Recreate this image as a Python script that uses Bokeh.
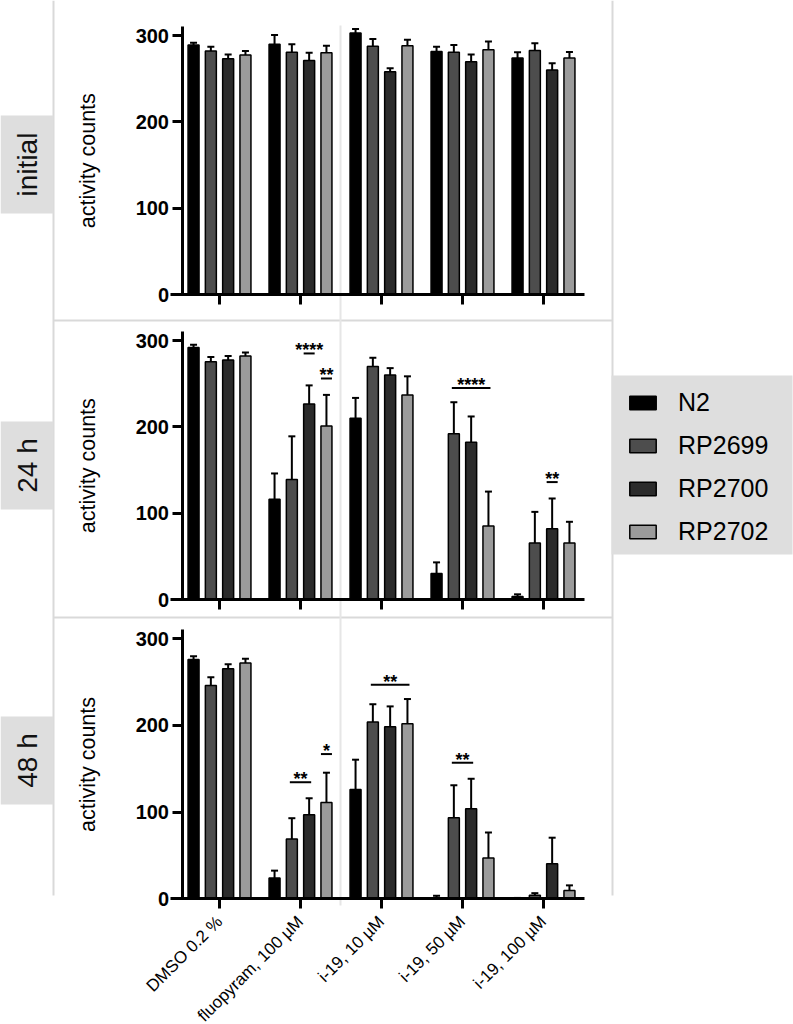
import numpy as np
from bokeh.plotting import figure
from bokeh.models import Range1d, LinearAxis, FixedTicker, Legend, LegendItem
from bokeh.core.properties import value
from bokeh.embed import file_html
from bokeh.resources import INLINE

# ---------------------------------------------------------------- data
treatments = ["DMSO 0.2 %", "fluopyram, 100 µM", "i-19, 10 µM", "i-19, 50 µM", "i-19, 100 µM"]
strains = ["N2", "RP2699", "RP2700", "RP2702"]
timepoints = ["initial", "24 h", "48 h"]
y_ticks = [0, 100, 200, 300]

# mean activity counts per strain, entries in treatment order
initial_mean = {
    "N2":     [289, 290, 303, 281.5, 274],
    "RP2699": [282, 280.5, 287.5, 280.5, 282.5],
    "RP2700": [273, 271, 258, 269.5, 260],
    "RP2702": [277.5, 280, 288, 283.5, 274],
}
initial_err = {
    "N2":     [2.5, 10.5, 4.5, 5.5, 6.5],
    "RP2699": [5, 9.5, 8.5, 8.5, 8.5],
    "RP2700": [5, 9, 4, 8.5, 8],
    "RP2702": [4.5, 8, 7, 9.5, 7],
}
h24_mean = {
    "N2":     [292, 116, 210, 30, 3.5],
    "RP2699": [275.5, 139, 270, 192, 65.5],
    "RP2700": [277.5, 226.5, 260, 182, 82],
    "RP2702": [282, 201, 237, 85, 65.5],
}
h24_err = {
    "N2":     [3, 30, 23.5, 13, 2.5],
    "RP2699": [5.5, 50, 10, 36.5, 36],
    "RP2700": [4.5, 21.5, 8, 30, 35],
    "RP2702": [4, 36, 21.5, 40, 24.5],
}
h48_mean = {
    "N2":     [276, 24, 126, 1, 0.5],
    "RP2699": [246, 69, 204, 93.5, 4],
    "RP2700": [265.5, 97, 198.5, 104, 40.5],
    "RP2702": [272, 111, 202, 47, 9.5],
}
h48_err = {
    "N2":     [4, 8.5, 34.5, 2.5, 0.5],
    "RP2699": [9.5, 24, 20.5, 37.5, 2.5],
    "RP2700": [5, 19, 23.5, 34.5, 30],
    "RP2702": [5, 34.5, 28.5, 29.5, 6],
}

# significance marks: (treatment index, first strain, last strain, bar height, stars)
sig_24h = [(1, 2, 2, 285, "****"), (1, 3, 3, 256, "**"), (3, 1, 3, 245, "****"), (4, 2, 2, 136, "**")]
sig_48h = [(1, 1, 2, 134.5, "**"), (1, 3, 3, 167, "*"), (2, 1, 3, 247, "**"), (3, 1, 2, 157, "**")]

strain_colors = ["#000000", "#4d4d4d", "#2b2b2b", "#9b9b9b"]

panels = [
    (initial_mean, initial_err, []),
    (h24_mean, h24_err, sig_24h),
    (h48_mean, h48_err, sig_48h),
]

# ---------------------------------------------------------------- layout
W, H = 793, 1024
GROUP_X0, GROUP_PX = 219.0, 81.0           # pixel of the first group centre, pixels per group
panel_zero = [294.0, 599.0, 898.3]          # pixel row of y = 0 in each panel
panel_scale = [259 / 300, 259 / 300, 260 / 300]

BAR_STEP = 17.3 / GROUP_PX
BAR_W = 11.0 / GROUP_PX
CAP = 3.5 / GROUP_PX
YAXIS_X = (181.5 - GROUP_X0) / GROUP_PX
XAXIS_BOUNDS = ((170 - GROUP_X0) / GROUP_PX, (584 - GROUP_X0) / GROUP_PX)
YLABEL_X = (87 - GROUP_X0) / GROUP_PX
FONT = "Liberation Sans"

p = figure(width=W, height=H,
           x_range=Range1d(-GROUP_X0 / GROUP_PX, (W - GROUP_X0) / GROUP_PX),
           y_range=Range1d(H, 0),
           x_axis_type=None, y_axis_type=None,
           toolbar_location=None, output_backend="svg",
           min_border=0, outline_line_color=None)
p.title.visible = False
p.extra_x_ranges = {"page": Range1d(0, W)}
p.extra_y_ranges = {f"t{k}": Range1d((z - H) / s, z / s)
                    for k, (z, s) in enumerate(zip(panel_zero, panel_scale))}

# facet frame lines and grey label boxes
p.segment(x0=[53, 612, 53, 53], y0=[0, 0, 320, 617], x1=[53, 612, 612, 612], y1=[895, 895, 320, 617],
          line_color="#d9d9d9", line_width=2, x_range_name="page")
p.segment(x0=[340], y0=[25], x1=[340], y1=[905], line_color="#e6e6e6", line_width=2, x_range_name="page")
p.quad(left=[0, 0, 0, 611], right=[53, 53, 53, 792], top=[115, 421, 716, 375], bottom=[213, 509, 804, 554],
       fill_color="#dedede", line_color=None, x_range_name="page")
p.text(x=[27, 27, 27], y=[164, 465, 760], text=timepoints, angle=np.pi / 2,
       text_align="center", text_baseline="middle", text_font_size="28px",
       text_font=value(FONT), text_color="#111111", x_range_name="page")

group_x = np.arange(len(treatments), dtype=float)
legend_renderers = []

for k, (means, errs, sigs) in enumerate(panels):
    rng = f"t{k}"
    for j, s in enumerate(strains):
        xs = group_x + (j - 1.5) * BAR_STEP
        m = np.array(means[s], dtype=float)
        e = np.array(errs[s], dtype=float)
        r = p.vbar(x=xs, top=m, bottom=0, width=BAR_W, fill_color=strain_colors[j],
                   line_color="black", line_width=1.5, y_range_name=rng)
        if k == 0:
            legend_renderers.append(r)
        p.segment(x0=xs, y0=m, x1=xs, y1=m + e, line_color="black", line_width=2, y_range_name=rng)
        p.segment(x0=xs - CAP, y0=m + e, x1=xs + CAP, y1=m + e, line_color="black", line_width=2,
                  y_range_name=rng)

    # significance lines and stars
    for (g, a, b, h, stars) in sigs:
        xa = g + (a - 1.5) * BAR_STEP
        xb = g + (b - 1.5) * BAR_STEP
        if a == b:
            xa -= BAR_W / 2
            xb += BAR_W / 2
        else:
            xa -= 0.025
            xb += 0.025
        p.segment(x0=[xa], y0=[h], x1=[xb], y1=[h], line_color="black", line_width=2, y_range_name=rng)
        p.text(x=[(xa + xb) / 2], y=[h], text=[stars], y_offset=-3, text_align="center",
               text_baseline="alphabetic", text_font_size="18px", text_font_style="bold",
               text_font=value(FONT), text_color="black", y_range_name=rng)

    # y axis label
    p.text(x=[YLABEL_X], y=[155], text=["activity counts"], angle=np.pi / 2,
           text_align="center", text_baseline="middle", text_font_size="21.5px",
           text_font=value(FONT), text_color="black", y_range_name=rng)

    yax = LinearAxis(y_range_name=rng, fixed_location=YAXIS_X, bounds=(0, 311),
                     ticker=FixedTicker(ticks=y_ticks))
    yax.axis_line_width = 3
    yax.major_tick_line_width = 3
    yax.major_tick_out = 10
    yax.major_tick_in = 0
    yax.major_label_standoff = 3
    yax.major_label_text_font = FONT
    yax.major_label_text_font_style = "bold"
    yax.major_label_text_font_size = "20px"
    yax.major_label_text_color = "black"
    p.add_layout(yax, "left")

    xax = LinearAxis(y_range_name=rng, fixed_location=0, bounds=XAXIS_BOUNDS,
                     ticker=FixedTicker(ticks=list(range(len(treatments)))))
    xax.axis_line_width = 3
    xax.major_tick_line_width = 3
    xax.major_tick_out = 10
    xax.major_tick_in = 0
    xax.major_label_text_font = FONT
    xax.major_label_text_font_size = "17px"
    xax.major_label_text_color = "black"
    if k == len(panels) - 1:
        xax.major_label_overrides = {i: t for i, t in enumerate(treatments)}
        xax.major_label_orientation = np.pi / 4
        xax.major_label_standoff = 10
    else:
        xax.major_label_overrides = {i: "" for i in range(len(treatments))}
    p.add_layout(xax, "below")

legend = Legend(items=[LegendItem(label=s, renderers=[r]) for s, r in zip(strains, legend_renderers)],
                location=(626, 478), padding=0, margin=0, spacing=13,
                glyph_width=33, glyph_height=17, label_standoff=19, label_height=30,
                label_text_font=FONT, label_text_font_size="25px", label_text_color="black",
                background_fill_alpha=0, border_line_color=None)
p.add_layout(legend)

open("out.html", "w").write(file_html(p, INLINE))
